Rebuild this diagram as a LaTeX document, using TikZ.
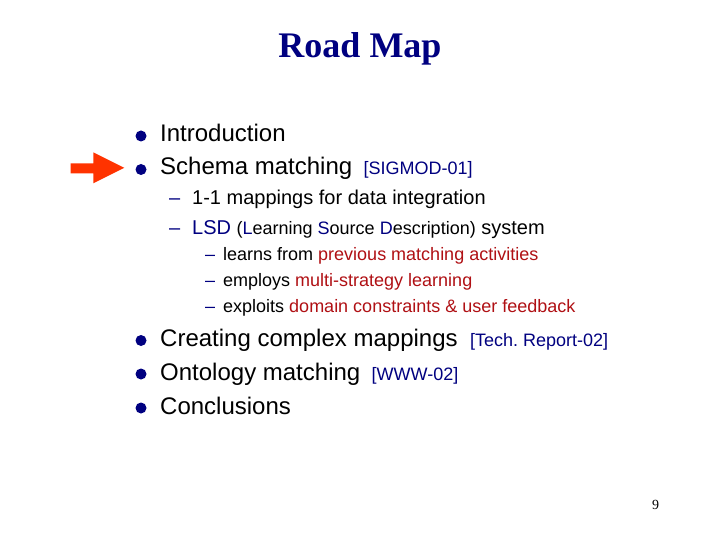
\documentclass[tikz,border=0pt]{standalone}
\usepackage{fontspec}
\setmainfont{Liberation Serif}
\newfontfamily\arialfont{Liberation Sans}
\usetikzlibrary{positioning}

\definecolor{navy}{RGB}{0,0,128}
\definecolor{deepred}{RGB}{176,16,20}
\definecolor{pointer}{RGB}{255,51,0}

\newcommand{\sizeA}{\fontsize{24}{28}\selectfont}
\newcommand{\sizeB}{\fontsize{20}{24}\selectfont}
\newcommand{\sizeC}{\fontsize{18}{22}\selectfont}
\newcommand{\hl}[1]{{\color{deepred}#1}}
\newcommand{\nv}[1]{{\color{navy}#1}}

\begin{document}
\begin{tikzpicture}[x=1pt,y=-1pt,
  txt/.style={inner sep=0pt,anchor=base west,font=\arialfont},
  lvlA/.style={txt,font=\arialfont\sizeA},
  lvlB/.style={txt,font=\arialfont\sizeB},
  lvlC/.style={txt,font=\arialfont\sizeC},
  ref/.style={txt,font=\arialfont\sizeC,text=navy},
  dot/.style={circle,fill=navy,inner sep=0pt,minimum size=11pt},
  dashB/.style={txt,font=\arialfont\sizeB,text=navy},
  dashC/.style={txt,font=\arialfont\sizeC,text=navy}]
\useasboundingbox[fill=white] (0,0) rectangle (720,540);

% title
\node[inner sep=0pt,anchor=base,font=\bfseries\fontsize{36}{40}\selectfont,text=navy] (title) at (360,58) {Road Map};

% pointer arrow
\fill[pointer] (70.7,163.3) -- (93.3,163.3) -- (93.3,152.3) -- (124.3,167.8)
  -- (93.3,183.3) -- (93.3,173.3) -- (70.7,173.3) -- cycle;

% first level
\node[dot] (b1) at (141,136) {};
\node[lvlA] (intro) at (160,142) {Introduction};
\node[dot] (b2) at (141,169.5) {};
\node[lvlA] (schema) at (160,175) {Schema matching};
\node[ref] (schemaref) at ([xshift=11pt]schema.base east) {[SIGMOD-01]};

% second level
\node[dashB] (d1) at (169,205) {\textendash};
\node[lvlB] (oneone) at (192,205) {1-1 mappings for data integration};
\node[dashB] (d2) at (169,235) {\textendash};
\node[lvlB] (lsd) at (192,235) {\nv{LSD} {\sizeC(\nv{L}earning \nv{S}ource \nv{D}escription)} system};

% third level
\node[dashC] (e1) at (205,260.5) {\textendash};
\node[lvlC] (learns) at (223,260.5) {learns from \hl{previous matching activities}};
\node[dashC] (e2) at (205,286.5) {\textendash};
\node[lvlC] (employs) at (223,286.5) {employs \hl{multi-strategy learning}};
\node[dashC] (e3) at (205,312.5) {\textendash};
\node[lvlC] (exploits) at (223,312.5) {exploits \hl{domain constraints \& user feedback}};

% remaining first level
\node[dot] (b3) at (141,340.5) {};
\node[lvlA] (complex) at (160,346.5) {Creating complex mappings};
\node[ref] (complexref) at ([xshift=12pt]complex.base east) {[Tech.\ Report-02]};
\node[dot] (b4) at (141,374) {};
\node[lvlA] (onto) at (160,380) {Ontology matching};
\node[ref] (ontoref) at ([xshift=11pt]onto.base east) {[WWW-02]};
\node[dot] (b5) at (141,408) {};
\node[lvlA] (concl) at (160,414) {Conclusions};

% page number
\node[inner sep=0pt,anchor=base,font=\fontsize{14}{16}\selectfont] (page) at (655.5,509) {9};
\end{tikzpicture}
\end{document}
